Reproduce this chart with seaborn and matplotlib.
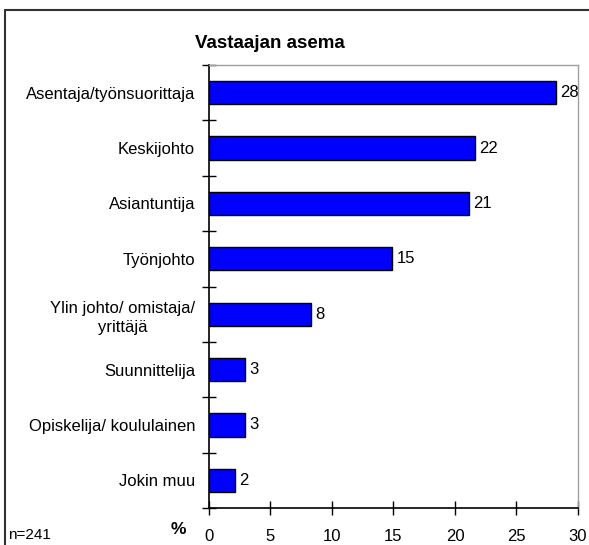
import matplotlib
matplotlib.use("Agg")
import matplotlib.pyplot as plt
import seaborn as sns
import pandas as pd
from matplotlib.lines import Line2D

# Data
categories = ["Asentaja/työnsuorittaja", "Keskijohto", "Asiantuntija", "Työnjohto",
              "Ylin johto/ omistaja/\nyrittäjä", "Suunnittelija",
              "Opiskelija/ koululainen", "Jokin muu"]
values = [28.2, 21.6, 21.1, 14.9, 8.3, 2.9, 2.9, 2.1]
x_ticks = [0, 5, 10, 15, 20, 25, 30]

sns.set_style("white")
plt.rcParams['font.family'] = ['Liberation Sans', 'DejaVu Sans']
plt.rcParams['text.color'] = 'black'
plt.rcParams['xtick.color'] = 'black'
plt.rcParams['ytick.color'] = 'black'

df = pd.DataFrame({"asema": categories, "osuus": values})

fig = plt.figure(figsize=(5.89, 5.45), dpi=100)
ax = fig.add_axes([0.3548, 0.0679, 0.6265, 0.8128])

sns.barplot(data=df, x="osuus", y="asema", orient="h", color="#0000FF",
            edgecolor="black", linewidth=1, width=0.42, saturation=1, ax=ax)

ax.set_xlim(0, 30)
ax.set_ylim(7.5, -0.5)
ax.set_xticks(x_ticks)
ax.set_xticklabels([str(t) for t in x_ticks], fontsize=12)
ax.set_xlabel("")
ax.set_ylabel("")

# category labels without tick marks, separators as minor ticks
ax.set_yticks(range(len(categories)))
ax.set_yticklabels(categories, fontsize=12, ha="right", multialignment="center",
                   linespacing=1.35)
ax.tick_params(axis="y", which="major", left=True, length=0, pad=10)
ax.set_yticks([i - 0.5 for i in range(len(categories) + 1)], minor=True)
ax.tick_params(axis="y", which="minor", left=True, length=10, direction="inout",
               color="black", width=1)
ax.tick_params(axis="x", which="major", bottom=True, length=10, direction="inout",
               color="black", width=1, pad=10)

for side in ["left", "bottom"]:
    ax.spines[side].set_color("black")
    ax.spines[side].set_linewidth(1.2)
for side in ["top", "right"]:
    ax.spines[side].set_color("#a0a0a0")
    ax.spines[side].set_linewidth(1)

# value labels (rounded)
for i, v in enumerate(values):
    ax.text(v + 0.35, i, f"{round(v)}", va="center", ha="left", fontsize=12)

fig.text(0.458, 0.921, "Vastaajan asema", ha="center", va="center",
         fontsize=13.5, fontweight="bold")
fig.text(0.302, 0.028, "%", ha="center", va="center", fontsize=12.5, fontweight="bold")
fig.text(0.013, 0.018, "n=241", ha="left", va="center", fontsize=11)

# outer frame (top and left edges visible)
fig.add_artist(Line2D([0.008, 1.0], [0.982, 0.982], color="#333333", linewidth=1.5,
                      transform=fig.transFigure))
fig.add_artist(Line2D([0.008, 0.008], [0.0, 0.982], color="#333333", linewidth=1.5,
                      transform=fig.transFigure))

fig.savefig("out.png", dpi=100)
